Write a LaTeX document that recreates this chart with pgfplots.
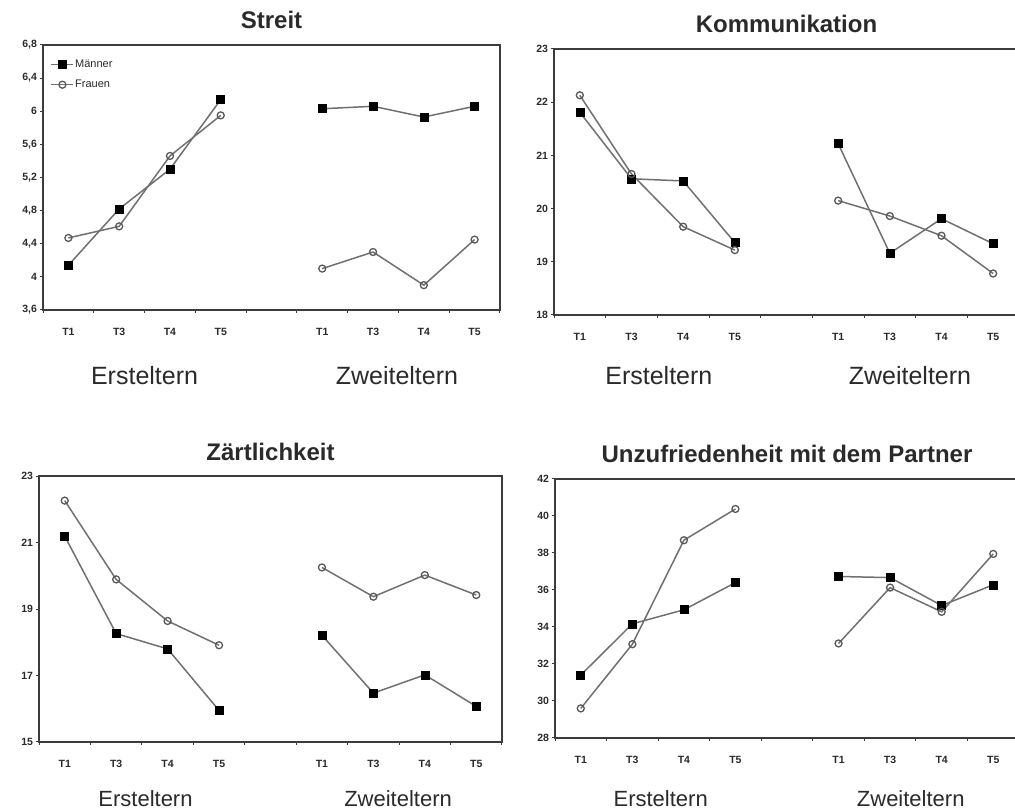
\documentclass[border=0pt]{standalone}
\usepackage{fontspec}
\setmainfont{Liberation Sans}
\usepackage{pgfplots}
\pgfplotsset{compat=1.18}

\definecolor{linegray}{HTML}{707070}
\definecolor{axisgray}{HTML}{3C3C3C}
\definecolor{txt}{HTML}{2A2A2A}

\pgfplotsset{
  panel/.style={
    scale only axis,
    clip=false,
    xmin=0, xmax=9,
    xtick={0.5,1.5,2.5,3.5,5.5,6.5,7.5,8.5},
    xticklabels={T1,T3,T4,T5,T1,T3,T4,T5},
    minor xtick={0,1,...,9},
    major x tick style={draw=none},
    tick align=outside,
    major tick length=3.5pt,
    minor tick length=3pt,
    xtick pos=bottom,
    ytick pos=left,
    axis line style={axisgray, line width=1.1pt},
    every tick/.style={axisgray, line width=1pt},
    tick label style={txt, font=\fontsize{10.5}{12}\selectfont\bfseries},
    xticklabel style={yshift=-11pt},
    yticklabel style={xshift=1pt},
    /pgf/number format/assume math mode=true,
    /pgf/number format/use comma,
    title style={at={(0.5,1)}, anchor=base, yshift=10pt, txt, font=\fontsize{24}{28}\selectfont\bfseries},
  },
  maenner/.style={linegray, line width=1.5pt, mark=square*, mark size=4pt, mark options={fill=black, draw=black, solid, line width=0.6pt}},
  frauen/.style={linegray, line width=1.5pt, mark=o, mark size=3.5pt, mark options={fill=white, draw=axisgray!85, solid, line width=1.3pt}},
}

\begin{document}
\begin{tikzpicture}
\path[use as bounding box] (0pt,0pt) rectangle (1015pt,811pt);

% ---------------- Streit ----------------
\begin{axis}[panel, at={(43pt,501pt)}, anchor=south west,
  width=457pt, height=265pt,
  ymin=3.6, ymax=6.8,
  ytick={3.6,4,4.4,4.8,5.2,5.6,6,6.4,6.8},
  yticklabel style={/pgf/number format/fixed, /pgf/number format/precision=1},
  title={Streit},
  legend style={at={(rel axis cs:0.012,0.955)}, anchor=north west, draw=none, fill=none,
    font=\fontsize{11}{13}\selectfont, text=txt, row sep=9pt, inner sep=2pt,
    nodes={inner sep=1pt}},
  legend cell align=left,
  legend image code/.code={\draw[mark repeat=2,mark phase=2] plot coordinates {(0pt,0pt) (11pt,0pt) (22pt,0pt)};},
]
\addplot[maenner] coordinates {(0.5,4.14) (1.5,4.82) (2.5,5.30) (3.5,6.14)};
\addlegendentry{Männer}
\addplot[frauen] coordinates {(0.5,4.47) (1.5,4.61) (2.5,5.46) (3.5,5.95)};
\addlegendentry{Frauen}
\addplot[maenner, forget plot] coordinates {(5.5,6.03) (6.5,6.06) (7.5,5.93) (8.5,6.06)};
\addplot[frauen, forget plot] coordinates {(5.5,4.10) (6.5,4.30) (7.5,3.90) (8.5,4.45)};
\node[txt, font=\fontsize{25}{29}\selectfont] at (axis cs:2,3.6) [yshift=-66pt] {Ersteltern};
\node[txt, font=\fontsize{25}{29}\selectfont] at (axis cs:6.97,3.6) [yshift=-66pt] {Zweiteltern};
\end{axis}

% ---------------- Kommunikation ----------------
\begin{axis}[panel, at={(554pt,496pt)}, anchor=south west,
  width=465pt, height=266pt,
  ymin=18, ymax=23,
  ytick={18,19,20,21,22,23},
  title={Kommunikation},
]
\addplot[maenner] coordinates {(0.5,21.81) (1.5,20.56) (2.5,20.52) (3.5,19.36)};
\addplot[frauen] coordinates {(0.5,22.13) (1.5,20.65) (2.5,19.66) (3.5,19.22)};
\addplot[maenner] coordinates {(5.5,21.22) (6.5,19.16) (7.5,19.81) (8.5,19.34)};
\addplot[frauen] coordinates {(5.5,20.15) (6.5,19.86) (7.5,19.49) (8.5,18.78)};
\node[txt, font=\fontsize{25}{29}\selectfont] at (axis cs:2.03,18) [yshift=-61pt] {Ersteltern};
\node[txt, font=\fontsize{25}{29}\selectfont] at (axis cs:6.89,18) [yshift=-61pt] {Zweiteltern};
\end{axis}

% ---------------- Zaertlichkeit ----------------
\begin{axis}[panel, at={(39pt,69pt)}, anchor=south west,
  width=463pt, height=266pt,
  ymin=15, ymax=23,
  ytick={15,17,19,21,23},
  title={Zärtlichkeit},
]
\addplot[maenner] coordinates {(0.5,21.19) (1.5,18.26) (2.5,17.80) (3.5,15.95)};
\addplot[frauen] coordinates {(0.5,22.26) (1.5,19.89) (2.5,18.64) (3.5,17.91)};
\addplot[maenner] coordinates {(5.5,18.21) (6.5,16.47) (7.5,17.02) (8.5,16.07)};
\addplot[frauen] coordinates {(5.5,20.25) (6.5,19.37) (7.5,20.02) (8.5,19.42)};
\node[txt, font=\fontsize{22}{26}\selectfont] at (axis cs:2.07,15) [yshift=-57pt] {Ersteltern};
\node[txt, font=\fontsize{22}{26}\selectfont] at (axis cs:6.98,15) [yshift=-57pt] {Zweiteltern};
\end{axis}

% ---------------- Unzufriedenheit ----------------
\begin{axis}[panel, at={(555pt,73pt)}, anchor=south west,
  width=464pt, height=259pt,
  ymin=28, ymax=42,
  ytick={28,30,32,34,36,38,40,42},
  title={Unzufriedenheit mit dem Partner},
]
\addplot[maenner] coordinates {(0.5,31.40) (1.5,34.17) (2.5,34.93) (3.5,36.40)};
\addplot[frauen] coordinates {(0.5,29.60) (1.5,33.07) (2.5,38.69) (3.5,40.38)};
\addplot[maenner] coordinates {(5.5,36.73) (6.5,36.67) (7.5,35.16) (8.5,36.28)};
\addplot[frauen] coordinates {(5.5,33.11) (6.5,36.13) (7.5,34.82) (8.5,37.95)};
\node[txt, font=\fontsize{22}{26}\selectfont] at (axis cs:2.05,28) [yshift=-61pt] {Ersteltern};
\node[txt, font=\fontsize{22}{26}\selectfont] at (axis cs:6.9,28) [yshift=-61pt] {Zweiteltern};
\end{axis}
\end{tikzpicture}
\end{document}
